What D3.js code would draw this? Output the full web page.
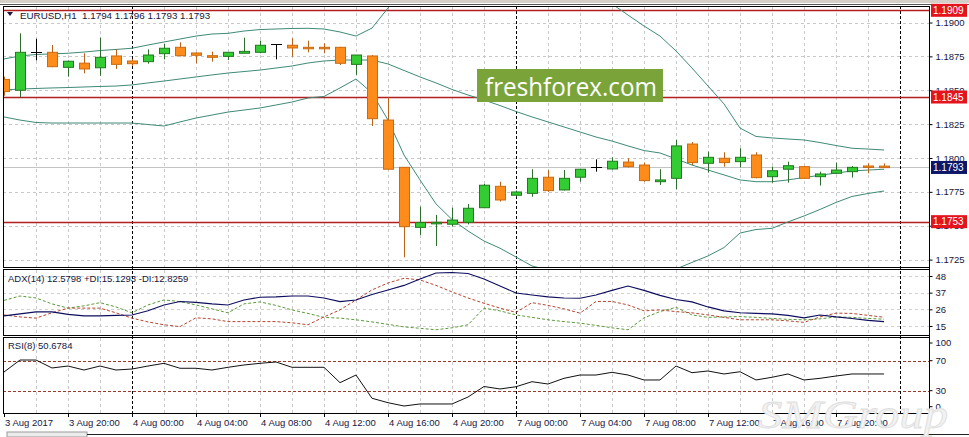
<!DOCTYPE html>
<html><head><meta charset="utf-8">
<script src="https://cdn.jsdelivr.net/npm/d3@7"></script>
<style>
html,body{margin:0;padding:0;background:#fff;overflow:hidden;}
svg{display:block;font-family:"Liberation Sans",Arial,sans-serif;}
</style></head><body>
<svg id="c" width="969" height="437"></svg>
<script>
// ---------- DATA ----------
const open = [1.18580,1.18500,1.18785,1.18780,1.18669,1.18700,1.18666,1.18753,1.18716,1.18711,
1.18770,1.18817,1.18775,1.18755,1.18750,1.18773,1.18780,1.18839,1.18832,1.18817,
1.18817,1.18817,1.18691,1.18753,1.18280,1.17931,1.17488,1.17518,1.17511,1.17525,
1.17633,1.17791,1.17725,1.17739,1.17858,1.17764,1.17858,1.17931,1.17919,1.17970,
1.17948,1.17825,1.17850,1.18103,1.17961,1.17998,1.17973,1.18022,1.17862,1.17917,
1.17936,1.17862,1.17887,1.17899,1.17941,1.17940];
const high = [1.18600,1.18920,1.18880,1.18834,1.18720,1.18773,1.18888,1.18802,1.18730,1.18802,
1.18841,1.18854,1.18780,1.18785,1.18780,1.18888,1.18866,1.18839,1.18883,1.18866,
1.18846,1.18820,1.18760,1.18760,1.18448,1.17931,1.17641,1.17580,1.17633,1.17660,
1.17808,1.17825,1.17760,1.17917,1.17911,1.17911,1.17920,1.17990,1.18005,1.17998,
1.17966,1.17917,1.18133,1.18118,1.18047,1.18042,1.18072,1.18042,1.17936,1.17973,
1.17940,1.17899,1.17966,1.17941,1.17960,1.17960];
const low = [1.18460,1.18450,1.18720,1.18670,1.18600,1.18625,1.18607,1.18657,1.18680,1.18696,
1.18728,1.18750,1.18699,1.18711,1.18723,1.18773,1.18773,1.18728,1.18748,1.18780,
1.18773,1.18686,1.18613,1.18236,1.17917,1.17267,1.17432,1.17350,1.17493,1.17510,
1.17630,1.17678,1.17715,1.17714,1.17750,1.17760,1.17825,1.17899,1.17915,1.17930,
1.17825,1.17801,1.17769,1.17948,1.17892,1.17936,1.17931,1.17850,1.17818,1.17818,
1.17850,1.17796,1.17880,1.17855,1.17887,1.17930];
const close = [1.18490,1.18780,1.18785,1.18674,1.18714,1.18657,1.18743,1.18691,1.18696,1.18760,
1.18810,1.18755,1.18758,1.18743,1.18780,1.18787,1.18832,1.18839,1.18812,1.18807,
1.18807,1.18699,1.18760,1.18290,1.17917,1.17493,1.17523,1.17525,1.17542,1.17629,
1.17799,1.17690,1.17749,1.17850,1.17759,1.17850,1.17917,1.17931,1.17976,1.17936,
1.17833,1.17838,1.18089,1.17966,1.18005,1.17966,1.18005,1.17855,1.17906,1.17943,
1.17850,1.17882,1.17911,1.17931,1.17931,1.17930];

const bbUpper = [1.18731,1.18753,1.18764,1.18768,1.18773,1.18782,1.18793,1.18801,1.18810,1.18834,
1.18856,1.18878,1.18900,1.18915,1.18920,1.18937,1.18948,1.18952,1.18956,1.18957,
1.18952,1.18930,1.18900,1.18959,1.19107,1.19269,1.19358,1.19446,1.19465,1.19469,
1.19469,1.19439,1.19417,1.19402,1.19358,1.19314,1.19262,1.19210,1.19137,1.19055,
1.18974,1.18900,1.18790,1.18664,1.18531,1.18399,1.18221,1.18159,1.18148,1.18140,
1.18133,1.18114,1.18092,1.18072,1.18066,1.18059];
const bbMiddle = [1.18502,1.18509,1.18513,1.18517,1.18520,1.18524,1.18528,1.18531,1.18539,1.18554,
1.18568,1.18583,1.18598,1.18613,1.18627,1.18638,1.18649,1.18664,1.18679,1.18701,
1.18716,1.18723,1.18723,1.18723,1.18694,1.18646,1.18598,1.18554,1.18506,1.18465,
1.18428,1.18387,1.18343,1.18303,1.18266,1.18229,1.18192,1.18155,1.18125,1.18089,
1.18055,1.18037,1.17993,1.17948,1.17911,1.17875,1.17838,1.17825,1.17825,1.17838,
1.17856,1.17872,1.17889,1.17904,1.17911,1.17917];
const bbLower = [1.18303,1.18280,1.18262,1.18258,1.18258,1.18258,1.18258,1.18258,1.18258,1.18247,
1.18236,1.18266,1.18295,1.18317,1.18339,1.18354,1.18369,1.18391,1.18413,1.18443,
1.18454,1.18517,1.18583,1.18480,1.18280,1.18022,1.17838,1.17661,1.17546,1.17461,
1.17387,1.17334,1.17269,1.17203,1.17173,1.17144,1.17122,1.17100,1.17114,1.17122,
1.17137,1.17173,1.17181,1.17229,1.17277,1.17339,1.17446,1.17472,1.17481,1.17528,
1.17572,1.17620,1.17672,1.17716,1.17738,1.17756];

const adx = [21.7,23.0,24.3,24.3,22.7,21.7,21.7,22.0,22.3,25.0,
28.9,31.2,30.6,29.6,28.9,32.2,34.0,34.2,34.8,34.8,
33.5,31.1,32.2,35.8,38.8,41.8,46.0,50.0,50.3,49.6,
46.0,41.4,36.8,35.5,34.2,33.5,33.3,35.5,38.5,41.4,
38.5,35.2,32.5,30.9,27.6,25.0,23.7,23.3,23.0,22.0,
20.4,22.3,21.0,20.0,18.7,17.9];
const plusDI = [31.9,34.8,33.5,29.6,26.8,28.3,30.4,27.6,23.7,28.9,
32.2,31.1,28.9,26.3,23.7,29.6,30.9,28.6,25.6,23.3,
20.7,20.2,19.1,17.7,16.1,14.4,13.5,12.5,13.8,15.8,
26.8,25.0,22.3,20.7,19.1,17.9,16.9,15.4,13.8,12.5,
20.4,24.5,27.3,22.3,20.7,21.0,21.2,20.7,20.0,19.4,
19.1,19.7,21.0,20.7,20.0,19.5];
const minusDI = [22.3,21.0,20.2,23.7,26.8,26.8,26.8,23.7,20.2,17.7,
15.8,14.6,20.4,19.7,17.9,17.9,17.9,17.9,17.1,15.8,
21.0,25.6,32.2,38.8,43.4,46.5,45.4,41.8,37.5,33.5,
30.0,26.8,24.0,30.4,28.6,26.3,23.5,31.2,31.2,28.9,
25.0,25.6,24.5,23.7,22.3,20.7,19.1,19.1,19.1,18.4,
17.4,21.0,23.5,23.3,22.0,20.8];
const rsi = [54.9,70.9,70.9,60.3,62.9,57.6,62.9,57.6,58.9,62.9,
66.5,59.9,59.9,57.6,61.2,64.3,66.5,68.3,61.2,61.2,
61.2,40.7,50.9,19.9,14.0,9.6,12.3,12.3,12.3,21.6,
35.6,32.3,35.3,42.0,38.9,46.5,50.9,50.9,54.5,50.9,
44.3,44.3,62.9,54.0,56.3,52.3,55.3,44.3,47.9,52.3,
44.3,46.5,49.6,52.3,52.3,52.3];

const timeLabels = ["3 Aug 2017","3 Aug 20:00","4 Aug 00:00","4 Aug 04:00","4 Aug 08:00","4 Aug 12:00","4 Aug 16:00",
"4 Aug 20:00","7 Aug 00:00","7 Aug 04:00","7 Aug 08:00","7 Aug 12:00","7 Aug 16:00","7 Aug 20:00"];
const timeLabelIndex = [0,4,8,12,16,20,24,28,32,36,40,44,48,52];
const daySeparators = [8,32,56];
const priceTicks = [1.1725,1.1750,1.1775,1.1800,1.1825,1.1850,1.1875,1.1900];
const levels = [1.1909,1.1845,1.1753];
const lastPrice = 1.1793;
const adxTicks = [15,26,37,48];
const rsiTicks = [0,30,70,100];
const rsiLevels = [30,70];
const headerText = "EURUSD,H1  1.1794 1.1796 1.1793 1.1793";
const adxText = "ADX(14) 12.5798 +DI:15.1293 -DI:12.8259";
const rsiText = "RSI(8) 50.6784";

// ---------- LAYOUT ----------
const svg = d3.select("#c");
const L = 3, R = 929;
const P = {main:[6,267], adx:[269,335], rsi:[337,413]};
const x = d3.scaleLinear().domain([0,55]).range([4,884]);
const yP = d3.scaleLinear().domain([1.1725,1.1900]).range([259.6,22.5]);
const yA = d3.scaleLinear().domain([15,48]).range([326,276]);
const yR = d3.scaleLinear().domain([30,70]).range([390.7,360.7]);
const idx = d3.range(open.length);
const txt = "#16163c";

// window chrome
svg.append("rect").attr("x",0).attr("y",0).attr("width",969).attr("height",3).attr("fill","#d4d0c8");
svg.append("line").attr("x1",0).attr("x2",969).attr("y1",4.5).attr("y2",4.5).attr("stroke","#555");

const defs = svg.append("defs");
Object.entries(P).forEach(([k,[a,b]])=>{
  defs.append("clipPath").attr("id","clip-"+k).append("rect")
    .attr("x",L+1).attr("y",a+1).attr("width",R-L-1).attr("height",b-a-1);
});

// grids
function vgrid(k){
  const [a,b]=P[k];
  const g = svg.append("g");
  for(let i=0;i<=58;i+=2){
    const xx = x(i);
    if(xx<=L+1||xx>=R) continue;
    if(daySeparators.includes(i)) continue;
    g.append("line").attr("x1",xx+0.5).attr("x2",xx+0.5).attr("y1",a+1).attr("y2",b)
      .attr("stroke","#c8c8c8").attr("stroke-dasharray","3,3");
  }
}
vgrid("main"); vgrid("adx"); vgrid("rsi");

priceTicks.forEach(p=>{
  svg.append("line").attr("x1",L).attr("x2",R).attr("y1",Math.round(yP(p))+0.5).attr("y2",Math.round(yP(p))+0.5)
    .attr("stroke","#c8c8c8").attr("stroke-dasharray","3,3");
});
adxTicks.forEach(v=>{
  svg.append("line").attr("x1",L).attr("x2",R).attr("y1",Math.round(yA(v))+0.5).attr("y2",Math.round(yA(v))+0.5)
    .attr("stroke","#d0d0d0").attr("stroke-dasharray","3,3");
});
rsiLevels.forEach(v=>{
  svg.append("line").attr("x1",L).attr("x2",R).attr("y1",Math.round(yR(v))+0.5).attr("y2",Math.round(yR(v))+0.5)
    .attr("stroke","#9a3b2a").attr("stroke-dasharray","3,2");
});

// current price line
svg.append("line").attr("x1",L).attr("x2",R).attr("y1",Math.round(yP(lastPrice))+0.5).attr("y2",Math.round(yP(lastPrice))+0.5)
  .attr("stroke","#c4c4c4");

// day separators
daySeparators.forEach(i=>{
  svg.append("line").attr("x1",x(i)+0.5).attr("x2",x(i)+0.5).attr("y1",P.main[0]).attr("y2",P.rsi[1])
    .attr("stroke","#000").attr("stroke-dasharray","3,2");
});

// horizontal red levels
levels.forEach(p=>{
  svg.append("line").attr("x1",L).attr("x2",R).attr("y1",Math.round(yP(p))+0.5).attr("y2",Math.round(yP(p))+0.5)
    .attr("stroke","#b21f1f").attr("stroke-width",1.3);
});

// Bollinger bands
const gMain = svg.append("g").attr("clip-path","url(#clip-main)");
const bandLine = d3.line().x((d,i)=>x(i)).y(d=>yP(d));
[bbUpper,bbMiddle,bbLower].forEach(arr=>{
  gMain.append("path").datum(arr).attr("d",bandLine).attr("fill","none")
    .attr("stroke","#3f8a78").attr("stroke-width",1);
});

// candles
const bullFill="#33cc33", bullStroke="#1f7a1f", bearFill="#ff8c1a", bearStroke="#c96a10";
const cg = gMain.selectAll("g.c").data(idx).join("g");
cg.append("line")
  .attr("x1",i=>x(i)+0.5).attr("x2",i=>x(i)+0.5)
  .attr("y1",i=>yP(high[i])).attr("y2",i=>yP(low[i]))
  .attr("stroke",i=> open[i]===close[i] ? "#000" : (close[i]>open[i]? "#2d6e2d" : "#b8621a"))
  .attr("stroke-width",1);
cg.filter(i=>open[i]!==close[i]).append("rect")
  .attr("x",i=>x(i)-4.5).attr("width",10)
  .attr("y",i=>yP(Math.max(open[i],close[i])))
  .attr("height",i=>Math.max(1.5,Math.abs(yP(open[i])-yP(close[i]))))
  .attr("fill",i=>close[i]>open[i]?bullFill:bearFill)
  .attr("stroke",i=>close[i]>open[i]?bullStroke:bearStroke).attr("stroke-width",1);
cg.filter(i=>open[i]===close[i]).append("line")
  .attr("x1",i=>x(i)-5).attr("x2",i=>x(i)+6)
  .attr("y1",i=>Math.round(yP(open[i]))+0.5).attr("y2",i=>Math.round(yP(open[i]))+0.5)
  .attr("stroke","#000");

// watermark box
svg.append("rect").attr("x",477).attr("y",69).attr("width",186).attr("height",33).attr("fill","#7aa43a");
svg.append("text").attr("x",485).attr("y",95.5).text("freshforex.com")
  .attr("font-family","'Open Sans',sans-serif").attr("font-size",26).attr("fill","#fff")
  .attr("textLength",172).attr("lengthAdjust","spacingAndGlyphs");

// ADX panel
const gA = svg.append("g").attr("clip-path","url(#clip-adx)");
const lineA = d3.line().x((d,i)=>x(i)).y(d=>yA(d));
gA.append("path").datum(plusDI).attr("d",lineA).attr("fill","none").attr("stroke","#5d9a3a").attr("stroke-dasharray","3,2");
gA.append("path").datum(minusDI).attr("d",lineA).attr("fill","none").attr("stroke","#b5452e").attr("stroke-dasharray","3,2");
gA.append("path").datum(adx).attr("d",lineA).attr("fill","none").attr("stroke","#0d0d5e").attr("stroke-width",1.1);

// RSI panel
const gR = svg.append("g").attr("clip-path","url(#clip-rsi)");
gR.append("path").datum(rsi).attr("d",d3.line().x((d,i)=>x(i)).y(d=>yR(d)))
  .attr("fill","none").attr("stroke","#111").attr("stroke-width",1);

// panel frames
Object.values(P).forEach(([a,b])=>{
  svg.append("rect").attr("x",L+0.5).attr("y",a+0.5).attr("width",R-L).attr("height",b-a)
    .attr("fill","none").attr("stroke","#000").attr("stroke-width",1);
});

// right axes
const fs = 9.5;
const axMain = svg.append("g").attr("transform",`translate(${R+0.5},0)`)
  .call(d3.axisRight(yP).tickValues(priceTicks).tickFormat(d3.format(".4f")).tickSize(3).tickPadding(3));
const axA = svg.append("g").attr("transform",`translate(${R+0.5},0)`)
  .call(d3.axisRight(yA).tickValues(adxTicks).tickFormat(d3.format("d")).tickSize(3).tickPadding(3));
const rsiClamp = d3.scaleLinear().domain([0,100]).range([406.7,343]);
const axR = svg.append("g").attr("transform",`translate(${R+0.5},0)`)
  .call(d3.axisRight(yR).tickValues(rsiTicks).tickFormat(d3.format("d")).tickSize(3).tickPadding(3));
axR.selectAll(".tick").attr("transform",d=>`translate(0,${(d===0||d===100)?rsiClamp(d):yR(d)})`);
[axMain,axA,axR].forEach(g=>{
  g.select(".domain").remove();
  g.selectAll("text").attr("font-size",fs).attr("fill",txt).attr("font-family","'Liberation Sans',Arial,sans-serif");
  g.selectAll("line").attr("stroke","#000");
});
svg.append("line").attr("x1",R+0.5).attr("x2",R+0.5).attr("y1",P.main[0]).attr("y2",P.rsi[1]+1).attr("stroke","#000");

// price boxes
function box(p,fill){
  const yy = yP(p);
  svg.append("rect").attr("x",931).attr("y",yy-6.5).attr("width",36).attr("height",13).attr("fill",fill);
  svg.append("text").attr("x",933).attr("y",yy+3.5).text(d3.format(".4f")(p))
    .attr("font-size",fs+0.5).attr("fill","#fff");
}
levels.forEach(p=>box(p,"#e5141c"));
box(lastPrice,"#0c1767");

// x axis labels
timeLabelIndex.forEach((i,k)=>{
  const xx = x(i);
  svg.append("line").attr("x1",xx+0.5).attr("x2",xx+0.5).attr("y1",P.rsi[1]).attr("y2",P.rsi[1]+4).attr("stroke","#000");
  svg.append("text").attr("x",xx+1).attr("y",425.5).text(timeLabels[k])
    .attr("font-size",fs).attr("fill",txt);
});

// bottom chrome
svg.append("rect").attr("x",7).attr("y",432).attr("width",80).attr("height",5).attr("fill","#ececec").attr("stroke","#999");
svg.append("line").attr("x1",87).attr("x2",969).attr("y1",434.5).attr("y2",434.5).attr("stroke","#222");

// headers
svg.append("path").attr("d","M7,12 L13,12 L10,16 Z").attr("fill",txt);
svg.append("text").attr("x",20).attr("y",19).text(headerText).attr("font-size",fs+0.3).attr("fill",txt).style("white-space","pre").attr("xml:space","preserve");
svg.append("text").attr("x",8).attr("y",281.5).text(adxText).attr("font-size",fs).attr("fill",txt);
svg.append("text").attr("x",8).attr("y",349).text(rsiText).attr("font-size",fs).attr("fill",txt);

// SMGroup watermark
svg.append("text").attr("x",758).attr("y",428).text("SMGroup")
  .attr("font-family","'Liberation Serif',serif").attr("font-style","italic").attr("font-size",40)
  .attr("fill","#f2f2f2").attr("stroke","#dedede").attr("stroke-width",0.8)
  .attr("textLength",190).attr("lengthAdjust","spacingAndGlyphs");
</script>
</body></html>
